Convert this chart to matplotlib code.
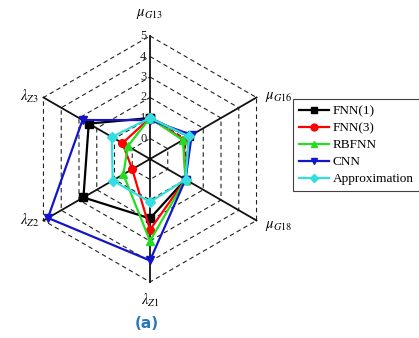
import numpy as np
import matplotlib
matplotlib.use("Agg")
import matplotlib.pyplot as plt

plt.rcParams["font.family"] = ["Liberation Serif", "DejaVu Serif"]
plt.rcParams["mathtext.fontset"] = "stix"

# Axes of the spider chart (clockwise from the top)
axis_labels = [r"$\mu_{G13}$", r"$\mu_{G16}$", r"$\mu_{G18}$",
               r"$\lambda_{Z1}$", r"$\lambda_{Z2}$", r"$\lambda_{Z3}$"]
tick_values = [0, 1, 2, 3, 4, 5]
r_min, r_max = -1, 5

# Series values, one per axis in the order above
fnn1 = [1.0, 1.2, 1.0, 1.9, 2.75, 2.45]
fnn3 = [1.0, 0.9, 1.0, 2.45, 0.0, 0.55]
rbfnn = [1.0, 0.85, 1.0, 3.0, 0.5, 0.25]
cnn = [0.9, 1.35, 1.0, 3.95, 4.75, 2.8]
approx = [1.0, 1.2, 1.0, 1.1, 1.1, 1.15]

series = [
    ("FNN(1)", fnn1, "#000000", "s"),
    ("FNN(3)", fnn3, "#ff0000", "o"),
    ("RBFNN", rbfnn, "#22dd22", "^"),
    ("CNN", cnn, "#1414c8", "v"),
    ("Approximation", approx, "#33dde0", "D"),
]

angles = np.deg2rad([90, 30, -30, -90, -150, 150])


def to_xy(values):
    r = np.asarray(values, dtype=float) - r_min
    return r * np.cos(angles), r * np.sin(angles)


W, H, DPI = 419, 338, 100
fig = plt.figure(figsize=(W / DPI, H / DPI), dpi=DPI)
ax = fig.add_axes([0, 0, 1, 1])
scale = 20.5           # pixels per data unit
cx, cy = 150, 159      # pixel location of the chart centre
ax.set_xlim(-cx / scale, (W - cx) / scale)
ax.set_ylim(-(H - cy) / scale, cy / scale)
ax.axis("off")

R = r_max - r_min
# dashed hexagonal rings
for t in tick_values:
    x, y = to_xy([t] * 6)
    ax.plot(np.append(x, x[0]), np.append(y, y[0]), ls=(0, (4, 3)),
            color="#222222", lw=0.8, zorder=1)
# solid spokes
for a in angles:
    ax.plot([0, R * np.cos(a)], [0, R * np.sin(a)], color="#111111",
            lw=1.3, zorder=2)
# radial tick labels along the top spoke
for t in tick_values:
    ax.text(-0.33, t - r_min, str(t), ha="center", va="center",
            fontsize=9, color="#222222", zorder=3)

# axis labels
offsets = [(0, 16, "center", "center"), (6, 0, "left", "center"),
           (6, -4, "left", "center"), (0, -13, "center", "center"),
           (-3, 0, "right", "center"), (-3, 1, "right", "center")]
for lab, a, (dx, dy, ha, va) in zip(axis_labels, angles, offsets):
    ax.annotate(lab, (R * np.cos(a), R * np.sin(a)), xytext=(dx, dy),
                textcoords="offset points", ha=ha, va=va, fontsize=10.5)

handles = []
for name, vals, col, mk in series:
    x, y = to_xy(vals)
    h, = ax.plot(np.append(x, x[0]), np.append(y, y[0]), color=col, lw=1.6,
                 marker=mk, markersize=5.5 if mk != "D" else 5,
                 markerfacecolor=col, markeredgecolor=col, label=name,
                 zorder=4)
    handles.append(h)

leg = fig.legend(handles=handles, loc="upper left",
                 bbox_to_anchor=(293 / W, 1 - 99 / H), fontsize=9.5,
                 frameon=True, fancybox=False, borderpad=0.45,
                 handlelength=2.3, handletextpad=0.25, labelspacing=0.36,
                 borderaxespad=0, markerscale=0.9)
leg.get_frame().set_edgecolor("#111111")
leg.get_frame().set_linewidth(0.8)

fig.text(147 / W, 1 - 323 / H, "(a)", ha="center", va="center",
         fontsize=11, fontweight="bold", color="#2a78b8",
         family="DejaVu Sans")

fig.savefig("out.png", dpi=DPI)
